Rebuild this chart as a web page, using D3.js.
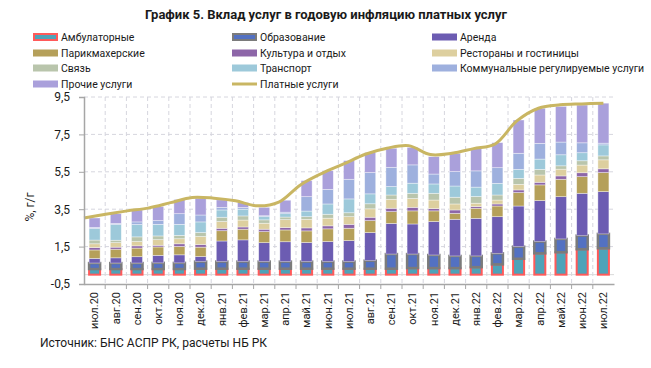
<!DOCTYPE html>
<html>
<head>
<meta charset="utf-8">
<script src="https://cdn.jsdelivr.net/npm/d3@7/dist/d3.min.js"></script>
<style>
body { margin: 0; background: #fff; }
text { font-family: Roboto, "Noto Sans", sans-serif; fill: #1a1a1a; }
</style>
</head>
<body>
<svg id="chart" width="651" height="368"></svg>
<script>
// months on the axis
var months = ["июл.20","авг.20","сен.20","окт.20","ноя.20","дек.20","янв.21","фев.21","мар.21","апр.21",
  "май.21","июн.21","июл.21","авг.21","сен.21","окт.21","ноя.21","дек.21","янв.22","фев.22",
  "мар.22","апр.22","май.22","июн.22","июл.22"];

// contributions, p.p.
var ambulatory = [0.3,0.3,0.3,0.3,0.3,0.32,0.32,0.32,0.32,0.32,0.32,0.32,0.32,0.32,0.32,0.35,0.35,0.35,0.4,0.55,0.85,1.14,1.2,1.36,1.41];
var education  = [0.32,0.32,0.32,0.33,0.33,0.38,0.38,0.38,0.38,0.38,0.38,0.38,0.38,0.43,0.78,0.75,0.7,0.65,0.6,0.59,0.65,0.63,0.71,0.73,0.77];
var rent       = [0.25,0.28,0.34,0.4,0.43,0.27,1.1,1.16,1.01,1.06,1.02,1.07,1.12,1.5,1.64,1.61,1.79,1.96,2.01,1.96,2.17,2.19,2.26,2.26,2.26];
var hairdress  = [0.45,0.46,0.46,0.45,0.45,0.5,0.55,0.57,0.59,0.63,0.62,0.68,0.66,0.64,0.63,0.7,0.57,0.32,0.54,0.57,0.72,0.84,0.93,0.89,1.02];
var culture    = [0.13,0.11,0.12,0.09,0.14,0.14,0.13,0.12,0.13,0.13,0.16,0.16,0.21,0.18,0.18,0.19,0.12,0.18,0.09,0.11,0.14,0.14,0.18,0.21,0.2];
var restaurants= [0.2,0.24,0.23,0.3,0.27,0.43,0.36,0.37,0.32,0.42,0.46,0.41,0.41,0.45,0.48,0.47,0.46,0.32,0.18,0.21,0.3,0.39,0.36,0.41,0.48];
var telecom    = [0.2,0.13,0.25,0.2,0.18,0.21,0.23,0.22,0.18,0.14,0.14,0.21,0.21,0.27,0.23,0.28,0.36,0.36,0.36,0.27,0.32,0.3,0.18,0.23,0.21];
var transport  = [0.62,0.84,0.66,0.62,0.59,0.57,0.39,0.36,0.17,0.18,0.3,0.55,0.74,0.53,0.45,0.54,0.5,0.6,0.5,0.62,0.48,0.55,0.59,0.43,0.59];
var utilities  = [0.06,0.06,0.14,0.2,0.57,0.37,0.14,0.09,0.05,0.08,0.77,0.78,1.05,1.14,1.03,0.98,0.53,0.77,0.87,0.84,0.86,0.84,0.68,0.53,0.09];
var other      = [0.5,0.52,0.64,0.76,0.76,0.9,0.4,0.27,0.45,0.64,0.86,1.0,1.0,1.07,1.02,0.94,0.93,0.98,1.21,1.34,1.78,1.88,1.91,2.02,2.14];

// paid services inflation, % y/y
var paidServices = [3.03,3.23,3.41,3.57,3.85,4.13,4.09,3.95,3.68,3.88,4.8,5.42,5.92,6.44,6.76,6.9,6.42,6.49,6.74,6.99,8.22,8.9,9.08,9.13,9.17];

var yTicks = [-0.5,1.5,3.5,5.5,7.5,9.5];

var series = [
  {key:"amb",  name:"Амбулаторные", values:ambulatory, fill:"#4ea3b9", stroke:"#ff5a5a", sw:2},
  {key:"edu",  name:"Образование", values:education, fill:"#5371c2", stroke:"#7b7b7b", sw:2.5},
  {key:"rent", name:"Аренда", values:rent, fill:"#6c5cb2"},
  {key:"hair", name:"Парикмахерские", values:hairdress, fill:"#b5a05a"},
  {key:"cult", name:"Культура и отдых", values:culture, fill:"#8d66a8"},
  {key:"rest", name:"Рестораны и гостиницы", values:restaurants, fill:"#ddcf9f"},
  {key:"tel",  name:"Связь", values:telecom, fill:"#b9c5ac"},
  {key:"tr",   name:"Транспорт", values:transport, fill:"#9dc9da"},
  {key:"util", name:"Коммунальные регулируемые услуги", values:utilities, fill:"#9eb0de"},
  {key:"oth",  name:"Прочие услуги", values:other, fill:"#aaa0db"}
];
var lineColor = "#c9b663";

var svg = d3.select("#chart");

var plotLeft = 84, plotRight = 614, plotTop = 97, plotBottom = 284;

var x = d3.scaleBand().domain(months).range([plotLeft, plotRight]).paddingInner(0.48).paddingOuter(0.24);
var xLine = d3.scalePoint().domain(months).range([plotLeft, x(months[months.length-1]) + x.bandwidth()/2]);
var y = d3.scaleLinear().domain([-0.5, 9.5]).range([plotBottom, plotTop]);

// title
svg.append("text")
  .attr("x", 326).attr("y", 19)
  .attr("text-anchor", "middle")
  .style("font-size", "13px").style("font-weight", "bold")
  .text("График 5. Вклад услуг в годовую инфляцию платных услуг");

// legend
var legendItems = series.map(function(s){ return {name:s.name, s:s}; });
legendItems.push({name:"Платные услуги", line:true});
var colX = [33, 232, 432], rowY = [37, 53, 68, 84];
legendItems.forEach(function(it, k){
  var gx = colX[k % 3], gy = rowY[Math.floor(k / 3)];
  var g = svg.append("g").attr("transform", "translate(" + gx + "," + gy + ")");
  if (it.line) {
    g.append("line").attr("x1", 0).attr("x2", 25).attr("y1", 0).attr("y2", 0)
      .attr("stroke", lineColor).attr("stroke-width", 3);
  } else if (it.s.stroke) {
    g.append("rect").attr("x", 1).attr("y", -3).attr("width", 23).attr("height", 6)
      .attr("fill", it.s.fill).attr("stroke", it.s.stroke).attr("stroke-width", 2);
  } else {
    g.append("rect").attr("x", 0).attr("y", -3.5).attr("width", 25).attr("height", 7)
      .attr("fill", it.s.fill);
  }
  g.append("text").attr("x", 28).attr("y", 4)
    .style("font-size", "10.5px")
    .text(it.name);
});

// grid
svg.append("g").selectAll("line")
  .data(yTicks.filter(function(d){ return d > -0.5; }))
  .enter().append("line")
  .attr("x1", plotLeft).attr("x2", plotRight)
  .attr("y1", function(d){ return y(d); }).attr("y2", function(d){ return y(d); })
  .attr("stroke", "#d6d6de").attr("stroke-dasharray", "4,3");

var sepX = function(d){ return x(d) - x.step()*x.paddingInner()/2; };

svg.append("g").selectAll("line")
  .data(months.slice(1))
  .enter().append("line")
  .attr("x1", sepX).attr("x2", sepX)
  .attr("y1", plotTop).attr("y2", plotBottom)
  .attr("stroke", "#d6d6de").attr("stroke-dasharray", "4,3");

svg.append("line")
  .attr("x1", plotLeft).attr("x2", plotRight).attr("y1", y(0)).attr("y2", y(0))
  .attr("stroke", "#d9d9d9");

// stacked bars
var rows = months.map(function(m, i){
  var r = {month:m};
  series.forEach(function(s){ r[s.key] = s.values[i]; });
  return r;
});
var stacked = d3.stack().keys(series.map(function(s){ return s.key; }))(rows);

stacked.forEach(function(layer, li){
  var s = series[li];
  svg.append("g").selectAll("rect")
    .data(layer)
    .enter().append("rect")
    .attr("x", function(d){ return x(d.data.month); })
    .attr("width", x.bandwidth())
    .attr("y", function(d){ return y(d[1]); })
    .attr("height", function(d){ return y(d[0]) - y(d[1]); })
    .attr("fill", s.fill)
    .attr("stroke", s.stroke || "rgba(255,255,255,0.55)")
    .attr("stroke-width", s.sw || 0.7);
});

// line
svg.append("path")
  .datum(paidServices)
  .attr("fill", "none")
  .attr("stroke", lineColor)
  .attr("stroke-width", 3)
  .attr("d", d3.line()
    .x(function(d, i){ return xLine(months[i]); })
    .y(function(d){ return y(d); })
    .curve(d3.curveCatmullRom));

// axes
var yAxis = svg.append("g").attr("transform", "translate(" + plotLeft + ",0)")
  .call(d3.axisLeft(y).tickValues(yTicks).tickSize(5)
    .tickFormat(function(d){ return d3.format(".1f")(d).replace(".", ",").replace("−", "-"); }));
yAxis.select(".domain").attr("stroke", "#a6a6a6").attr("stroke-width", 1.5);
yAxis.selectAll(".tick line").attr("stroke", "#a6a6a6");
yAxis.selectAll("text").style("font-size", "12px").attr("x", -14).attr("fill", "#1a1a1a");

var xAxis = svg.append("g").attr("transform", "translate(0," + plotBottom + ")")
  .call(d3.axisBottom(x).tickSize(0).tickSizeOuter(0));
xAxis.select(".domain").attr("stroke", "#a6a6a6").attr("stroke-width", 1.5);
xAxis.selectAll("text")
  .style("font-size", "11px").attr("fill", "#1a1a1a")
  .attr("transform", "rotate(-90)")
  .attr("text-anchor", "end")
  .attr("x", -8).attr("y", 0).attr("dy", "0.35em");

svg.append("g").selectAll("line")
  .data(months.slice(1))
  .enter().append("line")
  .attr("x1", sepX).attr("x2", sepX)
  .attr("y1", plotBottom).attr("y2", plotBottom + 5)
  .attr("stroke", "#a6a6a6");

// y title
svg.append("text")
  .attr("transform", "translate(34,207) rotate(-90)")
  .attr("text-anchor", "middle")
  .style("font-size", "12px")
  .text("%, г/г");

// source
svg.append("text")
  .attr("x", 40).attr("y", 347)
  .style("font-size", "12px")
  .text("Источник: БНС АСПР РК, расчеты НБ РК");
</script>
</body>
</html>
